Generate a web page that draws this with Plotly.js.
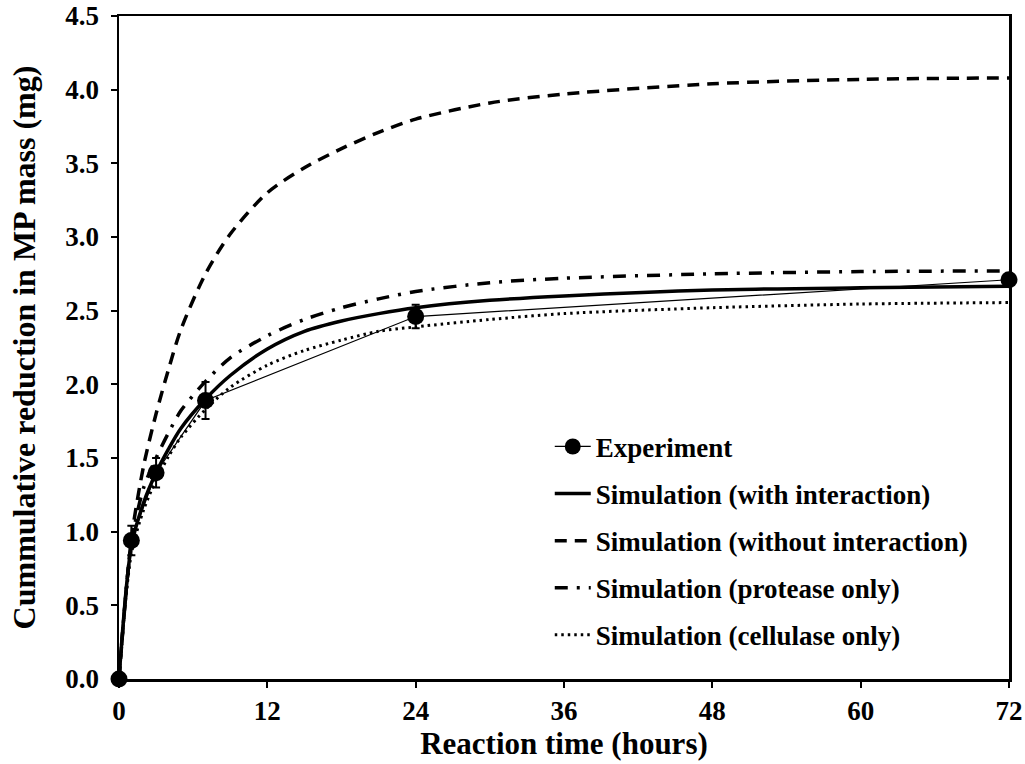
<!DOCTYPE html>
<html>
<head>
<meta charset="utf-8">
<script src="https://cdn.plot.ly/plotly-3.0.1.min.js"></script>
<style>
  html, body { margin: 0; padding: 0; background: #fff; }
  #chart { width: 1025px; height: 764px; }
</style>
</head>
<body>
<div id="chart"></div>
<script>
// Measured mass reduction (mg) with standard deviations
const expTime = [0, 1, 3, 7, 24, 72];
const expMass = [0, 0.94, 1.40, 1.89, 2.46, 2.71];
const expErr  = [0, 0.10, 0.10, 0.125, 0.08, 0.02];

// Model output sampled over the reaction time (hours)
const simTime = [0, 1, 2, 3, 4, 5, 7, 9, 12, 15, 18, 21, 24, 30, 36, 48, 60, 72];
const simWith      = [0, 0.90, 1.20, 1.40, 1.56, 1.70, 1.90, 2.06, 2.24, 2.36, 2.43, 2.48, 2.52, 2.57, 2.60, 2.64, 2.655, 2.665];
const simWithout   = [0, 0.95, 1.45, 1.80, 2.10, 2.37, 2.75, 3.02, 3.30, 3.47, 3.60, 3.71, 3.80, 3.91, 3.97, 4.04, 4.07, 4.08];
const simProtease  = [0, 0.92, 1.30, 1.50, 1.67, 1.82, 2.02, 2.18, 2.33, 2.44, 2.52, 2.58, 2.63, 2.69, 2.72, 2.75, 2.765, 2.77];
const simCellulase = [0, 0.85, 1.15, 1.35, 1.51, 1.64, 1.83, 1.98, 2.13, 2.23, 2.30, 2.36, 2.39, 2.44, 2.48, 2.52, 2.545, 2.555];

const xTicks = [0, 12, 24, 36, 48, 60, 72];
const yTicks = [0, 0.5, 1.0, 1.5, 2.0, 2.5, 3.0, 3.5, 4.0, 4.5];

const FONT = "'Liberation Serif', 'Times New Roman', serif";

const traces = [
  {
    name: 'Experiment', x: expTime, y: expMass, mode: 'lines+markers',
    line: { color: '#000', width: 1.2 },
    marker: { color: '#000', size: 17, symbol: 'circle' },
    error_y: { type: 'data', array: expErr, visible: true, color: '#000', thickness: 2, width: 4 },
    cliponaxis: false, legendgroup: 'a'
  },
  {
    name: 'Simulation (with interaction)', x: simTime, y: simWith, mode: 'lines',
    line: { color: '#000', width: 3.5, shape: 'spline', smoothing: 0.8 }, legendgroup: 'b'
  },
  {
    name: 'Simulation (without interaction)', x: simTime, y: simWithout, mode: 'lines',
    line: { color: '#000', width: 3.5, dash: '12px,8px', shape: 'spline', smoothing: 0.8 }, legendgroup: 'c'
  },
  {
    name: 'Simulation (protease only)', x: simTime, y: simProtease, mode: 'lines',
    line: { color: '#000', width: 3.5, dash: '13px,9px,3px,9px', shape: 'spline', smoothing: 0.8 }, legendgroup: 'd'
  },
  {
    name: 'Simulation (cellulase only)', x: simTime, y: simCellulase, mode: 'lines',
    line: { color: '#000', width: 3, dash: '2.5px,4px', shape: 'spline', smoothing: 0.8 }, legendgroup: 'e'
  }
];

const layout = {
  width: 1025, height: 764,
  margin: { l: 119, r: 16, t: 16, b: 85 },
  paper_bgcolor: '#fff', plot_bgcolor: '#fff',
  font: { family: FONT, size: 26, color: '#000', weight: 'bold' },
  showlegend: true,
  legend: {
    x: 0.484, y: 0.387, xanchor: 'left', yanchor: 'top',
    bgcolor: 'rgba(0,0,0,0)', traceorder: 'grouped', tracegroupgap: 9,
    font: { family: FONT, size: 27, color: '#000', weight: 'bold' },
    itemwidth: 36
  },
  xaxis: {
    range: [0, 72], tickvals: xTicks, ticktext: xTicks.map(String),
    showgrid: false, zeroline: false,
    showline: true, linecolor: '#000', linewidth: 2.5, mirror: true,
    ticks: 'outside', ticklen: 6, tickwidth: 2, tickcolor: '#000',
    tickfont: { family: FONT, size: 27, color: '#000', weight: 'bold' },
    title: { text: 'Reaction time (hours)', font: { family: FONT, size: 31, color: '#000', weight: 'bold' }, standoff: 6 }
  },
  yaxis: {
    range: [0, 4.5], tickvals: yTicks, ticktext: yTicks.map(v => v.toFixed(1)),
    showgrid: false, zeroline: false,
    showline: true, linecolor: '#000', linewidth: 2.5, mirror: true,
    ticks: 'outside', ticklen: 6, tickwidth: 2, tickcolor: '#000',
    ticklabelstandoff: 6,
    tickfont: { family: FONT, size: 27, color: '#000', weight: 'bold' },
    title: { text: 'Cummulative reduction in MP mass (mg)', font: { family: FONT, size: 32, color: '#000', weight: 'bold' }, standoff: 20 }
  }
};

Plotly.newPlot('chart', traces, layout, { displayModeBar: false, staticPlot: true });
</script>
</body>
</html>
